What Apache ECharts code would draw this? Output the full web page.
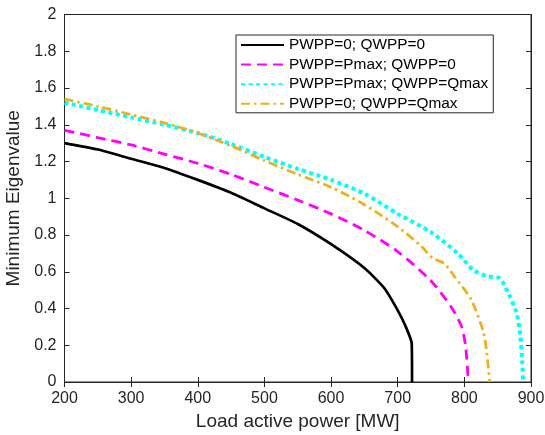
<!DOCTYPE html>
<html>
<head>
<meta charset="utf-8">
<script src="https://cdn.jsdelivr.net/npm/echarts@6/dist/echarts.min.js"></script>
<style>html,body{margin:0;padding:0;background:#fff}#c{width:545px;height:435px}</style>
</head>
<body>
<div id="c"></div>
<script>
// Series data: [load active power MW, minimum eigenvalue]
const seriesNames = ['PWPP=0; QWPP=0', 'PWPP=Pmax; QWPP=0', 'PWPP=Pmax; QWPP=Qmax', 'PWPP=0; QWPP=Qmax'];
const base = [[200,1.30],[250,1.265],[300,1.215],[350,1.165],[400,1.10],[450,1.03],[500,0.945],[550,0.86],[600,0.75],[650,0.62],[680,0.51],[700,0.39],[711,0.31],[721,0.21],[721.5,0]];
const pOnly = [[200,1.37],[250,1.33],[300,1.29],[350,1.24],[400,1.19],[450,1.13],[500,1.06],[550,0.99],[600,0.915],[650,0.825],[700,0.71],[750,0.55],[780,0.41],[796,0.30],[802,0.19],[806,0]];
const pq = [[200,1.52],[250,1.48],[300,1.44],[350,1.40],[400,1.355],[450,1.295],[500,1.225],[550,1.16],[600,1.10],[650,1.025],[700,0.915],[750,0.815],[790,0.70],[813,0.61],[835,0.575],[853,0.565],[865,0.49],[878,0.38],[884,0.25],[887,0.10],[888,0]];
const qOnly = [[200,1.54],[250,1.50],[300,1.455],[350,1.41],[400,1.355],[450,1.285],[500,1.205],[550,1.13],[600,1.06],[650,0.965],[700,0.845],[735,0.74],[752,0.675],[770,0.645],[785,0.575],[810,0.45],[828,0.28],[833,0.18],[838,0]];
const xTicks = [200,300,400,500,600,700,800,900];
const yTicks = [0,0.2,0.4,0.6,0.8,1,1.2,1.4,1.6,1.8,2];

const chart = echarts.init(document.getElementById('c'), null, {renderer:'canvas'});
const axisCol = '#262626';
const font = 'Liberation Sans, Arial, Helvetica, sans-serif';
const lbl = {color: axisCol, fontSize: 16, fontFamily: font};
const tickStyle = {inside: true, length: 5, lineStyle: {color: axisCol}};
chart.setOption({
  animation: false,
  grid: {left: 64.5, right: 14, top: 14.5, bottom: 53, show: true, borderColor: axisCol, borderWidth: 1,
         containLabel: false, outerBoundsMode: 'none'},
  legend: {
    orient: 'vertical', left: 236, top: 35,
    backgroundColor: '#fff', borderColor: axisCol, borderWidth: 1,
    padding: [2, 5, 1, 4], itemGap: 3.6, itemWidth: 43, itemHeight: 16,
    itemStyle: {opacity: 0},
    textStyle: {color: '#000', fontSize: 15.4, lineHeight: 16, fontFamily: font},
    data: seriesNames
  },
  xAxis: [{
    type: 'value', min: 200, max: 900, interval: 100,
    name: 'Load active power [MW]', nameLocation: 'middle', nameGap: 25,
    nameTextStyle: {color: axisCol, fontSize: 19, fontFamily: font},
    axisLine: {show: true, lineStyle: {color: axisCol}},
    axisTick: tickStyle,
    axisLabel: Object.assign({margin: 9, formatter: v => xTicks.includes(v) ? String(v) : ''}, lbl),
    splitLine: {show: false}
  }, {
    type: 'value', min: 200, max: 900, interval: 100, position: 'top',
    axisLine: {show: true, lineStyle: {color: axisCol}},
    axisTick: tickStyle,
    axisLabel: {show: false}, splitLine: {show: false}
  }],
  yAxis: [{
    type: 'value', min: 0, max: 2, interval: 0.2,
    name: 'Minimum Eigenvalue', nameLocation: 'middle', nameGap: 37,
    nameTextStyle: {color: axisCol, fontSize: 19, fontFamily: font},
    axisLine: {show: true, lineStyle: {color: axisCol}},
    axisTick: tickStyle,
    axisLabel: Object.assign({margin: 8, formatter: v => {
      const t = yTicks.find(k => Math.abs(k - v) < 1e-9);
      return t === undefined ? '' : String(t);
    }}, lbl),
    splitLine: {show: false}
  }, {
    type: 'value', min: 0, max: 2, interval: 0.2, position: 'right',
    axisLine: {show: true, lineStyle: {color: axisCol}},
    axisTick: tickStyle,
    axisLabel: {show: false}, splitLine: {show: false}
  }],
  series: [
    {name: seriesNames[0], type: 'line', data: base, symbol: 'none', z: 5, smooth: 0.2,
     lineStyle: {color: '#000000', width: 2.7}, itemStyle: {color: '#000000'}},
    {name: seriesNames[1], type: 'line', data: pOnly, symbol: 'none', smooth: 0.25,
     lineStyle: {color: '#ff00ff', width: 2.8, type: [10, 6]}, itemStyle: {color: '#ff00ff'}},
    {name: seriesNames[2], type: 'line', data: pq, symbol: 'none', smooth: 0.25,
     lineStyle: {color: '#00ffff', width: 4, type: [4, 3.5]}, itemStyle: {color: '#00ffff'}},
    {name: seriesNames[3], type: 'line', data: qOnly, symbol: 'none', smooth: 0.25,
     lineStyle: {color: '#edb120', width: 2.8, type: [9, 4, 2.5, 4]}, itemStyle: {color: '#edb120'}}
  ]
});
</script>
</body>
</html>
